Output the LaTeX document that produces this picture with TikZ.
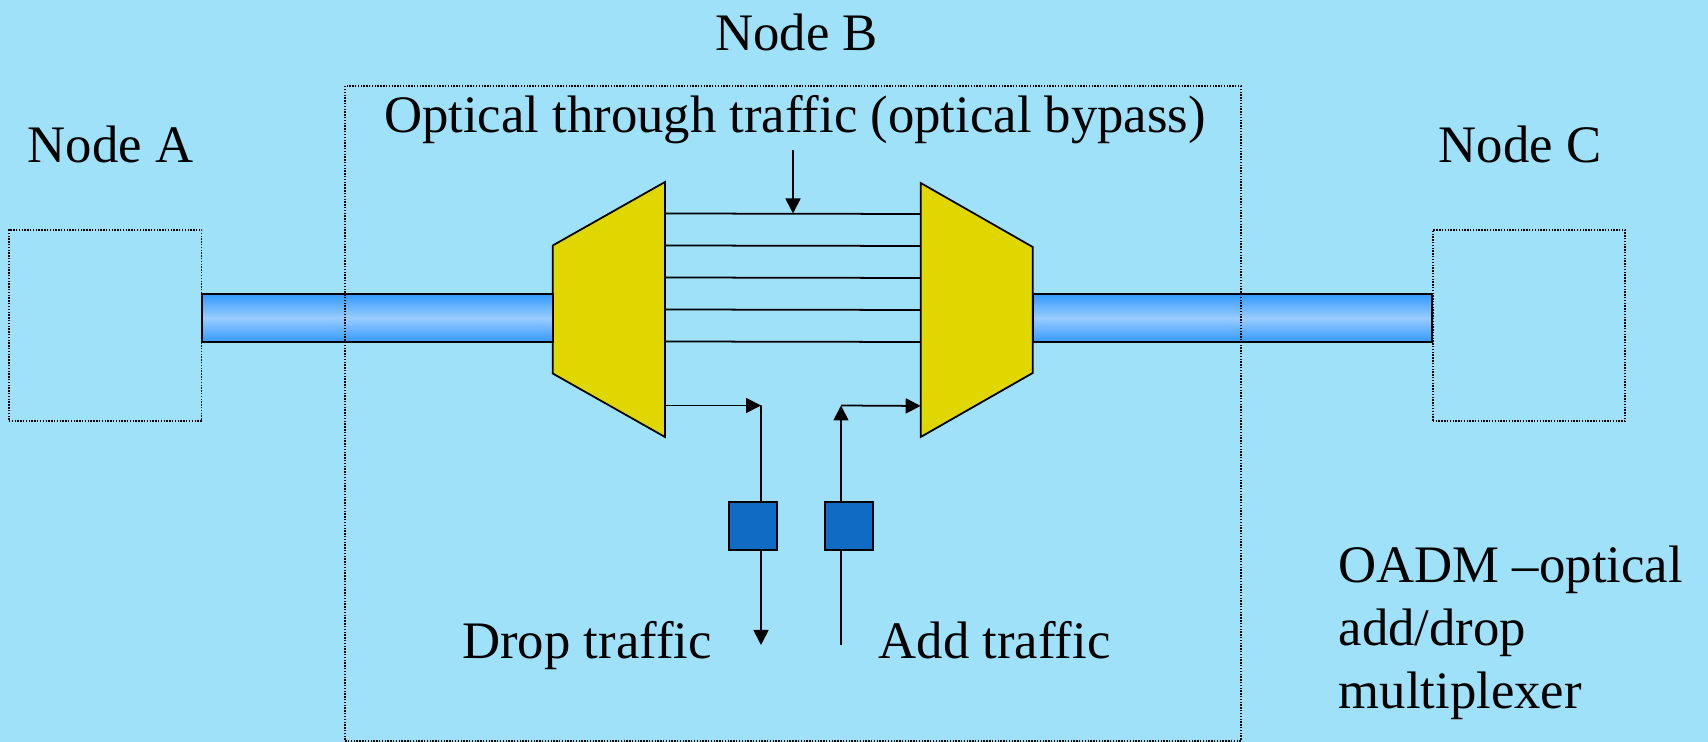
\documentclass[tikz,border=0pt]{standalone}
\usepackage{fontspec}
\setmainfont{Liberation Serif}
\usepackage{xcolor}
\usetikzlibrary{arrows.meta,positioning,shapes.geometric}
\definecolor{slidebg}{RGB}{160,225,250}
\definecolor{muxyellow}{RGB}{224,214,0}
\definecolor{filterblue}{RGB}{15,107,196}
\definecolor{fiberdark}{RGB}{51,153,255}
\definecolor{fiberlight}{RGB}{153,204,255}

\begin{document}
\begin{tikzpicture}[
    every node/.style={font=\fontsize{15}{17.9}\selectfont},
    title/.style={anchor=base,inner sep=0pt},
    site/.style={rectangle,draw,dash pattern=on 0.4pt off 0.4pt,line width=0.45pt,inner sep=0pt},
    fiber/.style={draw,line width=0.55pt,top color=fiberdark,bottom color=fiberdark,middle color=fiberlight},
    mux/.style={draw,line width=0.5pt,fill=muxyellow,line join=miter},
    filter/.style={rectangle,draw,line width=0.55pt,fill=filterblue,minimum size=0.485cm,inner sep=0pt},
    arrow/.style={-{Triangle[length=0.15cm,width=0.15cm]},line width=0.5pt},
    wire/.style={line width=0.5pt}
  ]
    \fill[slidebg] (0,0) rectangle (17.08,7.42);
    \useasboundingbox (0,0) rectangle (17.08,7.42);

    % end nodes
    \node[site,minimum width=1.927cm,minimum height=1.91cm] (siteA) at (1.053,4.165) {};
    \node[site,minimum width=1.923cm,minimum height=1.91cm] (siteC) at (15.29,4.165) {};
    \node[title] (labelA) at (1.105,5.79) {Node A};
    \node[title] (labelC) at (15.20,5.79) {Node C};

    % demultiplexer and multiplexer
    \coordinate (demux-w) at (5.527,4.325);
    \coordinate (demux-e) at (6.65,4.325);
    \coordinate (mux-w) at (9.207,4.32);
    \coordinate (mux-e) at (10.327,4.32);
    \draw[mux] ([yshift=0.64cm]demux-w) -- ([yshift=1.275cm]demux-e)
      -- ([yshift=-1.275cm]demux-e) -- ([yshift=-0.64cm]demux-w) -- cycle;
    \draw[mux] ([yshift=1.27cm]mux-w) -- ([yshift=0.63cm]mux-e)
      -- ([yshift=-0.63cm]mux-e) -- ([yshift=-1.27cm]mux-w) -- cycle;

    % fibers
    \coordinate (fiberlow) at (0,4.0);
    \coordinate (fiberhigh) at (0,4.48);
    \draw[fiber] (siteA.east |- fiberlow) rectangle (demux-w |- fiberhigh);
    \draw[fiber] (mux-e |- fiberlow) rectangle (siteC.west |- fiberhigh);

    \node[site,minimum width=8.955cm,minimum height=6.55cm] (siteB) at (7.93,3.285) {};
    \node[title] (labelB) at (7.965,6.91) {Node B};

    % through traffic
    \foreach \dy in {0.96,0.64,0.32,0,-0.32}
      \draw[wire] ([yshift=\dy cm]demux-e) -- ([yshift=\dy cm]mux-w);
    \node[title] (bypass) at (7.95,6.09) {Optical through traffic (optical bypass)};
    \coordinate (bypassstart) at (7.93,5.92);
    \coordinate (topline) at ([yshift=0.96cm]demux-e);
    \draw[arrow] (bypassstart) -- (bypassstart |- topline);

    % drop / add
    \draw[arrow] ([yshift=-0.96cm]demux-e) -- ++(0.96,0) coordinate (dropturn);
    \coordinate (dropend) at (7.61,0.97);
    \draw[arrow] (dropturn) -- (dropend);
    \coordinate (addstart) at (8.41,0.965);
    \coordinate (addturn) at (8.41,3.365);
    \draw[arrow] (addstart) -- (addturn);
    \draw[arrow] (addturn) -- ([yshift=-0.96cm]mux-w);
    \node[filter] (dropfilter) at (7.53,2.16) {};
    \node[filter] (addfilter) at (8.49,2.16) {};
    \node[title] (droplabel) at (5.87,0.833) {Drop traffic};
    \node[title] (addlabel) at (9.946,0.833) {Add traffic};

    \node[anchor=base west,align=left,inner sep=0pt] (oadm) at (13.38,0.337)
      {OADM \textendash optical\\add/drop\\multiplexer};
\end{tikzpicture}
\end{document}
